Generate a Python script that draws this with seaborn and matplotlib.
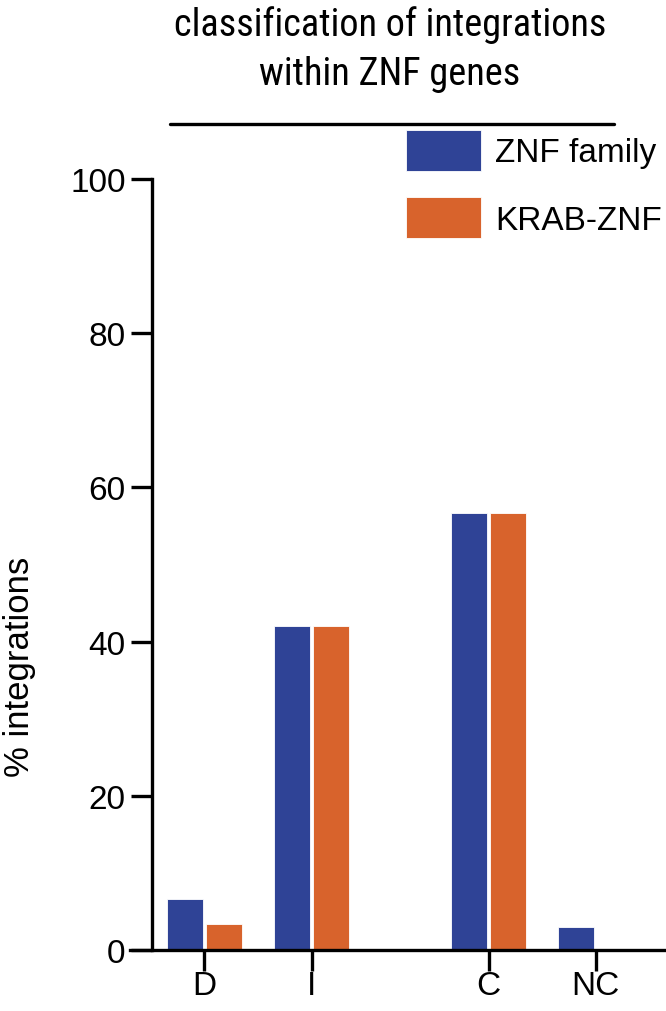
import numpy as np
import pandas as pd
import matplotlib
matplotlib.use("Agg")
import matplotlib.pyplot as plt
import seaborn as sns
from matplotlib import font_manager
from matplotlib.font_manager import FontProperties
from matplotlib.lines import Line2D

# ---- data ----
categories = ["D", "I", "C", "NC"]
series = ["ZNF family", "KRAB-ZNF"]
znf_family = [6.6, 42.0, 56.7, 3.0]
krab_znf = [3.4, 42.0, 56.7, 0.0]
y_ticks = [0, 20, 40, 60, 80, 100]
title_lines = ["classification of integrations", "within ZNF genes"]
y_label = "% integrations"

# ---- layout / style ----
group_pos = [0.0, 1.0, 2.65, 3.65]          # wider gap between I and C
colors = {"ZNF family": "#2F4396", "KRAB-ZNF": "#D8632C"}

sns.set_theme(style="white")
plt.rcParams["font.family"] = ["Liberation Sans", "DejaVu Sans"]
plt.rcParams["text.color"] = "black"
plt.rcParams["axes.labelcolor"] = "black"
plt.rcParams["xtick.color"] = "black"
plt.rcParams["ytick.color"] = "black"


def pick_condensed_font():
    entries = font_manager.fontManager.ttflist
    wanted = [("Liberation Sans Narrow", None), ("Arial Narrow", None),
              ("Roboto Condensed", None), ("Open Sans Condensed", None),
              ("DejaVu Sans", "condensed"), ("Open Sans", "condensed"),
              ("Noto Sans", "condensed"), ("Roboto", "condensed")]
    for name, stretch in wanted:
        for f in entries:
            if f.name != name or f.style != "normal":
                continue
            if f.weight not in (400, "normal", "regular"):
                continue
            if stretch is not None and f.stretch != stretch:
                continue
            return FontProperties(fname=f.fname)
    return FontProperties(family="Liberation Sans")


df = pd.DataFrame({
    "pos": group_pos * 2,
    "category": categories * 2,
    "series": [series[0]] * len(categories) + [series[1]] * len(categories),
    "value": znf_family + krab_znf,
})

W, H = 666, 1012
fig = plt.figure(figsize=(W / 100, H / 100), dpi=100)
ax = fig.add_axes([130 / W, 1 - 951 / H, (665 - 130) / W, (951 - 180) / H])

sns.barplot(data=df, x="pos", y="value", hue="series", hue_order=series,
            palette=colors, native_scale=True, width=0.729, gap=0.092,
            dodge=True, saturation=1, edgecolor="white", linewidth=0.6,
            errorbar=None, ax=ax)

ax.set_xlim(-0.695, 4.296)
ax.set_ylim(0, 100)
ax.set_xticks(group_pos)
ax.set_xticklabels(categories)
ax.set_yticks(y_ticks)
ax.set_yticklabels([str(t) for t in y_ticks])
ax.set_xlabel("")
ax.set_ylabel(y_label, fontsize=25, color="black")
ax.yaxis.set_label_coords((36 - 130) / 535, (951 - 667) / 771)

for s in ["top", "right"]:
    ax.spines[s].set_visible(False)
for s in ["left", "bottom"]:
    ax.spines[s].set_linewidth(2.4)
    ax.spines[s].set_color("black")
ax.spines["left"].set_position(("data", -0.494))

ax.tick_params(axis="both", which="major", direction="out", length=15,
               width=2.4, color="black", labelsize=24, labelcolor="black")
ax.tick_params(axis="y", pad=3.6, left=True)
ax.tick_params(axis="x", pad=-0.5, bottom=True)

# legend
handles, labels = ax.get_legend_handles_labels()
if ax.get_legend() is not None:
    ax.get_legend().remove()
fig.legend(handles, labels, loc="upper left",
           bbox_to_anchor=(406 / W, 1 - 131 / H), bbox_transform=fig.transFigure,
           frameon=False, fontsize=24, handlelength=2.25, handleheight=1.5,
           handletextpad=0.42, labelspacing=0.8, borderpad=0, borderaxespad=0,
           labelcolor="black")

# title with underline (font size fitted to the reference line width)
title_fp = pick_condensed_font()
t1 = fig.text(390 / W, 1 - 36 / H, title_lines[0], ha="center", va="baseline",
              fontproperties=title_fp, fontsize=30, color="black")
t2 = fig.text(390 / W, 1 - 85 / H, title_lines[1], ha="center", va="baseline",
              fontproperties=title_fp, fontsize=30, color="black")
renderer = fig.canvas.get_renderer()
w1 = t1.get_window_extent(renderer).width
size = 30 * 433.0 / w1
t1.set_fontsize(size)
t2.set_fontsize(size)
fig.add_artist(Line2D([170 / W, 614 / W], [1 - 125 / H, 1 - 125 / H],
                      transform=fig.transFigure, color="black", linewidth=2.4))

fig.savefig("out.png", dpi=100)
